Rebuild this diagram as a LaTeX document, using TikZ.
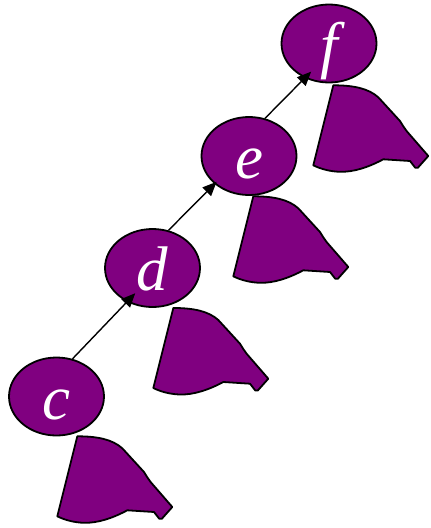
\documentclass[tikz,border=0pt]{standalone}
\usepackage{fontspec}
\setmainfont{Liberation Serif}
\usetikzlibrary{shapes.geometric, arrows.meta}
\definecolor{treepurple}{RGB}{128,0,128}

\begin{document}
\begin{tikzpicture}[x=1pt, y=-1pt, >={Triangle[length=14pt, width=12pt]},
        knot/.style={ellipse, draw, line width=1.8pt, fill=treepurple,
            minimum width=95pt, minimum height=78pt, inner sep=0pt, text=white,
            font=\fontsize{63}{63}\selectfont\itshape, text height=45pt, text depth=0pt},
        skirt/.style={draw, line width=1.8pt, fill=treepurple, line join=round},
        link/.style={->, line width=1.4pt}]
            \useasboundingbox (0,0) rectangle (431,528);

            % subtrees hanging below each node
            \foreach \p in {(77.3,436.3), (173.3,308), (253.3,196.3), (333.3,85.3)}
                \draw[skirt, shift={\p}] (0,0) .. controls (20,0) and (35,3) .. (45,12)
                    -- (66.7,35.7) -- (70,41) -- (73.3,45.7) -- (95,70.7) -- (84.5,82.5)
                    -- (82,82.5) -- (76.7,75.7) -- (50,74)
                    .. controls (35,82) and (20,87) .. (6,86.5)
                    .. controls (-5,86) and (-14,83) .. (-20,80)
                    .. controls (-13,52) and (-5,20) .. (0,0) -- cycle;

            \node[knot] (c) at (56.5,396.5) {c};
            \node[knot] (d) at (152.5,268) {d};
            \node[knot] (e) at (249,156) {e};
            \node[knot] (f) at (329,43.5) {f};

            \draw[link, shorten >=-12pt] (c.67) -- (d.233);
            \draw[link, shorten >=-3pt] (d.67) -- (e.219);
            \draw[link, shorten >=-9pt] (e.67) -- (f.235);
        \end{tikzpicture}
\end{document}
